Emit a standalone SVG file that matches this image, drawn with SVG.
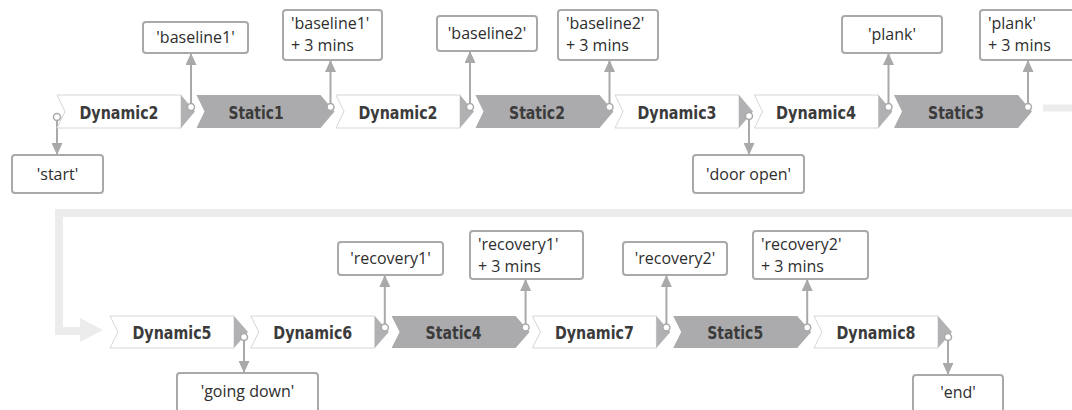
<svg xmlns="http://www.w3.org/2000/svg" width="1072" height="410" viewBox="0 0 1072 410">
<style>
.dyn{fill:#ffffff;stroke:#d6d6d6;stroke-width:1}
.tip{fill:#b1b1b4}
.sta{fill:#ababae}
.lbl{font-family:"DejaVu Sans Condensed","DejaVu Sans",sans-serif;font-weight:bold;font-size:18px;fill:#3b3b3b;text-anchor:middle}
.box{fill:#ffffff;stroke:#a9a9a9;stroke-width:2}
.bt{font-family:"Open Sans","Noto Sans",sans-serif;font-size:16px;fill:#2e2e2e}
.c{text-anchor:middle}
.ln{stroke:#a9a9a9;stroke-width:2;fill:none}
.dot{fill:#ffffff;stroke:#a9a9a9;stroke-width:1.5}
.ret{stroke:#ececec;fill:none}
</style>
<defs>
<marker id="ah" markerUnits="userSpaceOnUse" markerWidth="12" markerHeight="11" refX="12" refY="5.5" orient="auto">
<path d="M0,0 L12,5.5 L0,11 z" fill="#a9a9a9"/>
</marker>
</defs>

<g id="connectors">
<path class="ret" stroke-width="7" d="M1043,108 H1072"/>
<path class="ret" stroke-width="8" d="M1072,213 H59 V331 H82"/>
<polygon points="80,318 103,330 80,342" fill="#ececec"/>
<line class="ln" x1="57" y1="120" x2="57" y2="155" marker-end="url(#ah)"/>
<line class="ln" x1="191" y1="103.5" x2="191" y2="53" marker-end="url(#ah)"/>
<line class="ln" x1="330.5" y1="103.5" x2="330.5" y2="60" marker-end="url(#ah)"/>
<line class="ln" x1="470" y1="103.5" x2="470" y2="51" marker-end="url(#ah)"/>
<line class="ln" x1="609.5" y1="103.5" x2="609.5" y2="60" marker-end="url(#ah)"/>
<line class="ln" x1="749" y1="119.5" x2="749" y2="155" marker-end="url(#ah)"/>
<line class="ln" x1="888.5" y1="103.5" x2="888.5" y2="53" marker-end="url(#ah)"/>
<line class="ln" x1="1028" y1="103.5" x2="1028" y2="60" marker-end="url(#ah)"/>
<line class="ln" x1="244" y1="340" x2="244" y2="373" marker-end="url(#ah)"/>
<line class="ln" x1="384.8" y1="324" x2="384.8" y2="275" marker-end="url(#ah)"/>
<line class="ln" x1="525.6" y1="324" x2="525.6" y2="279" marker-end="url(#ah)"/>
<line class="ln" x1="666.4" y1="324" x2="666.4" y2="275" marker-end="url(#ah)"/>
<line class="ln" x1="807.2" y1="324" x2="807.2" y2="279" marker-end="url(#ah)"/>
<line class="ln" x1="948" y1="340" x2="948" y2="375" marker-end="url(#ah)"/>
</g>

<g id="n-dynamic2a">
<polygon class="dyn" points="57,95 181,95 181,128 57,128 65,111.5"/>
<polygon class="tip" points="181,95 195,111.5 181,128"/>
<text class="lbl" x="119" y="119" textLength="79" lengthAdjust="spacingAndGlyphs">Dynamic2</text>
</g>
<g id="n-static1">
<polygon class="sta" points="196.5,95 320.5,95 334.5,111.5 320.5,128 196.5,128 204.5,111.5"/>
<text class="lbl" x="256" y="119" textLength="55" lengthAdjust="spacingAndGlyphs">Static1</text>
</g>
<g id="n-dynamic2b">
<polygon class="dyn" points="336,95 460,95 460,128 336,128 344,111.5"/>
<polygon class="tip" points="460,95 474,111.5 460,128"/>
<text class="lbl" x="398" y="119" textLength="79" lengthAdjust="spacingAndGlyphs">Dynamic2</text>
</g>
<g id="n-static2">
<polygon class="sta" points="475.5,95 599.5,95 613.5,111.5 599.5,128 475.5,128 483.5,111.5"/>
<text class="lbl" x="537" y="119" textLength="56" lengthAdjust="spacingAndGlyphs">Static2</text>
</g>
<g id="n-dynamic3">
<polygon class="dyn" points="615,95 739,95 739,128 615,128 623,111.5"/>
<polygon class="tip" points="739,95 753,111.5 739,128"/>
<text class="lbl" x="677" y="119" textLength="79" lengthAdjust="spacingAndGlyphs">Dynamic3</text>
</g>
<g id="n-dynamic4">
<polygon class="dyn" points="754.5,95 878.5,95 878.5,128 754.5,128 762.5,111.5"/>
<polygon class="tip" points="878.5,95 892.5,111.5 878.5,128"/>
<text class="lbl" x="816" y="119" textLength="80" lengthAdjust="spacingAndGlyphs">Dynamic4</text>
</g>
<g id="n-static3">
<polygon class="sta" points="894,95 1018,95 1032,111.5 1018,128 894,128 902,111.5"/>
<text class="lbl" x="956" y="119" textLength="56" lengthAdjust="spacingAndGlyphs">Static3</text>
</g>

<g id="n-dynamic5">
<polygon class="dyn" points="110,316 234,316 234,348 110,348 118,332"/>
<polygon class="tip" points="234,316 248,332 234,348"/>
<text class="lbl" x="172" y="339" textLength="79" lengthAdjust="spacingAndGlyphs">Dynamic5</text>
</g>
<g id="n-dynamic6">
<polygon class="dyn" points="250.8,316 374.8,316 374.8,348 250.8,348 258.8,332"/>
<polygon class="tip" points="374.8,316 388.8,332 374.8,348"/>
<text class="lbl" x="312.8" y="339" textLength="79" lengthAdjust="spacingAndGlyphs">Dynamic6</text>
</g>
<g id="n-static4">
<polygon class="sta" points="391.6,316 515.6,316 529.6,332 515.6,348 391.6,348 399.6,332"/>
<text class="lbl" x="453.6" y="339" textLength="56" lengthAdjust="spacingAndGlyphs">Static4</text>
</g>
<g id="n-dynamic7">
<polygon class="dyn" points="532.4,316 656.4,316 656.4,348 532.4,348 540.4,332"/>
<polygon class="tip" points="656.4,316 670.4,332 656.4,348"/>
<text class="lbl" x="594.4" y="339" textLength="79" lengthAdjust="spacingAndGlyphs">Dynamic7</text>
</g>
<g id="n-static5">
<polygon class="sta" points="673.2,316 797.2,316 811.2,332 797.2,348 673.2,348 681.2,332"/>
<text class="lbl" x="735.2" y="339" textLength="56" lengthAdjust="spacingAndGlyphs">Static5</text>
</g>
<g id="n-dynamic8">
<polygon class="dyn" points="814,316 938,316 938,348 814,348 822,332"/>
<polygon class="tip" points="938,316 952,332 938,348"/>
<text class="lbl" x="876" y="339" textLength="79" lengthAdjust="spacingAndGlyphs">Dynamic8</text>
</g>

<g id="dots">
<circle class="dot" cx="57" cy="117" r="3.5"/>
<circle class="dot" cx="191" cy="107" r="3.5"/>
<circle class="dot" cx="330.5" cy="107" r="3.5"/>
<circle class="dot" cx="470" cy="107" r="3.5"/>
<circle class="dot" cx="609.5" cy="107" r="3.5"/>
<circle class="dot" cx="749" cy="116" r="3.5"/>
<circle class="dot" cx="888.5" cy="107" r="3.5"/>
<circle class="dot" cx="1028" cy="107" r="3.5"/>
<circle class="dot" cx="244" cy="337" r="3.5"/>
<circle class="dot" cx="384.8" cy="327.5" r="3.5"/>
<circle class="dot" cx="525.6" cy="327.5" r="3.5"/>
<circle class="dot" cx="666.4" cy="327.5" r="3.5"/>
<circle class="dot" cx="807.2" cy="327.5" r="3.5"/>
<circle class="dot" cx="948" cy="337" r="3.5"/>
</g>

<g id="b-start"><rect class="box" x="12" y="155" width="91" height="38" rx="3"/><text class="bt c" x="57.5" y="179.5">'start'</text></g>
<g id="b-baseline1"><rect class="box" x="143" y="22" width="105" height="31" rx="3"/><text class="bt c" x="195.5" y="43">'baseline1'</text></g>
<g id="b-baseline1-3"><rect class="box" x="283" y="10" width="99" height="50" rx="3"/><text class="bt" x="291" y="29">'baseline1'</text><text class="bt" x="291" y="51">+ 3 mins</text></g>
<g id="b-baseline2"><rect class="box" x="437" y="16" width="100" height="35" rx="3"/><text class="bt c" x="487" y="39">'baseline2'</text></g>
<g id="b-baseline2-3"><rect class="box" x="558" y="10" width="100" height="50" rx="3"/><text class="bt" x="566" y="29">'baseline2'</text><text class="bt" x="566" y="51">+ 3 mins</text></g>
<g id="b-dooropen"><rect class="box" x="693" y="155" width="111" height="38" rx="3"/><text class="bt c" x="748.5" y="179.5">'door open'</text></g>
<g id="b-plank"><rect class="box" x="842" y="16" width="100" height="37" rx="3"/><text class="bt c" x="892" y="40">'plank'</text></g>
<g id="b-plank-3"><rect class="box" x="980" y="10" width="100" height="50" rx="3"/><text class="bt" x="988" y="29">'plank'</text><text class="bt" x="988" y="51">+ 3 mins</text></g>

<g id="b-goingdown"><rect class="box" x="177" y="373" width="141" height="45" rx="3"/><text class="bt c" x="247.5" y="397">'going down'</text></g>
<g id="b-recovery1"><rect class="box" x="338" y="242" width="105" height="33" rx="3"/><text class="bt c" x="390.5" y="264">'recovery1'</text></g>
<g id="b-recovery1-3"><rect class="box" x="470" y="231" width="113" height="48" rx="3"/><text class="bt" x="478" y="250">'recovery1'</text><text class="bt" x="478" y="272">+ 3 mins</text></g>
<g id="b-recovery2"><rect class="box" x="623" y="242" width="104" height="33" rx="3"/><text class="bt c" x="675" y="264">'recovery2'</text></g>
<g id="b-recovery2-3"><rect class="box" x="753" y="231" width="115" height="48" rx="3"/><text class="bt" x="761" y="250">'recovery2'</text><text class="bt" x="761" y="272">+ 3 mins</text></g>
<g id="b-end"><rect class="box" x="913" y="375" width="90" height="43" rx="3"/><text class="bt c" x="958" y="398">'end'</text></g>
</svg>
